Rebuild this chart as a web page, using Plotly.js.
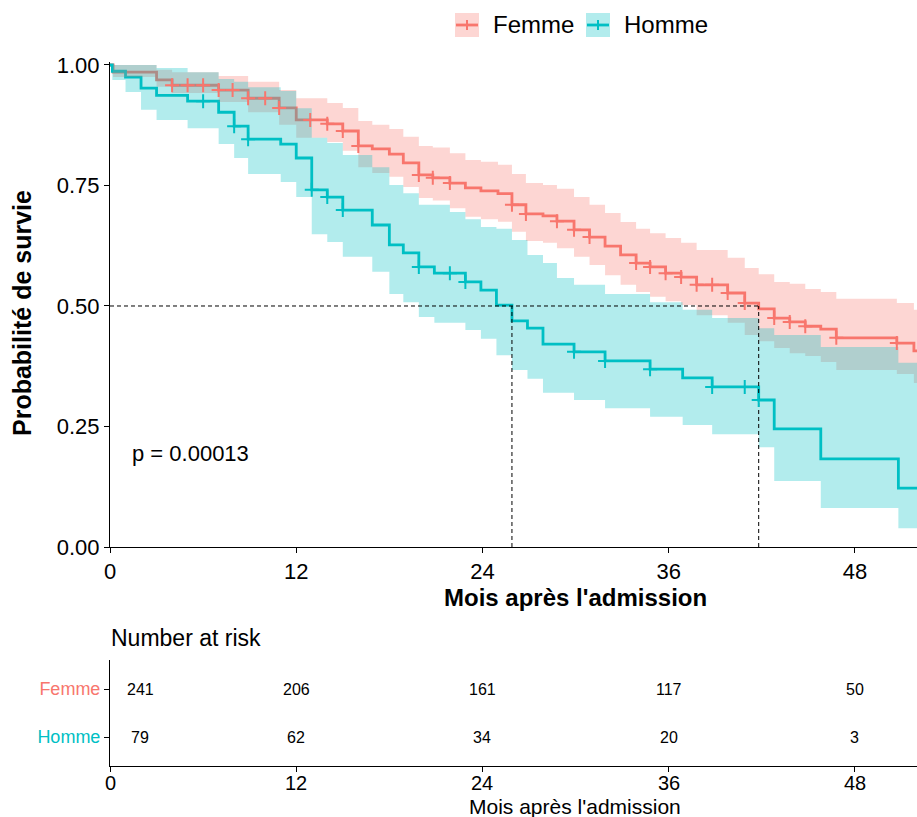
<!DOCTYPE html>
<html><head><meta charset="utf-8">
<script src="https://cdn.plot.ly/plotly-3.0.1.min.js"></script>
<style>html,body{margin:0;padding:0;background:#fff;}#chart{width:917px;height:817px;}</style>
</head><body><div id="chart"></div>
<script>
// ---------------- data ----------------
const groups = ["Femme", "Homme"];

const femmeTime  = [0, 0.2, 3.0, 4.0, 7.0, 8.9, 10.9, 12.0, 14.0, 15.0, 16.0, 16.9, 18.0, 18.9, 19.9, 20.8, 21.9, 22.9, 23.9, 25.0, 25.9, 26.8, 27.9, 28.8, 29.9, 30.9, 31.9, 32.9, 33.9, 34.8, 35.8, 36.8, 37.8, 39.8, 40.9, 41.8, 42.8, 43.8, 44.8, 45.8, 46.8, 50.7, 51.8, 60];
const femmeSurv  = [1, 0.985, 0.969, 0.958, 0.948, 0.931, 0.911, 0.886, 0.878, 0.863, 0.832, 0.826, 0.815, 0.797, 0.772, 0.766, 0.755, 0.745, 0.739, 0.733, 0.710, 0.691, 0.687, 0.676, 0.658, 0.643, 0.624, 0.606, 0.589, 0.581, 0.568, 0.560, 0.544, 0.527, 0.506, 0.494, 0.475, 0.467, 0.458, 0.452, 0.434, 0.423, 0.407, 0.407];
const femmeUpper = [1, 1, 0.99, 0.985, 0.977, 0.965, 0.948, 0.931, 0.921, 0.911, 0.884, 0.876, 0.867, 0.851, 0.832, 0.829, 0.817, 0.803, 0.799, 0.793, 0.774, 0.755, 0.751, 0.743, 0.726, 0.710, 0.693, 0.674, 0.660, 0.651, 0.641, 0.631, 0.616, 0.600, 0.579, 0.566, 0.550, 0.546, 0.535, 0.529, 0.515, 0.506, 0.492, 0.492];
const femmeLower = [1, 0.975, 0.955, 0.942, 0.923, 0.902, 0.876, 0.849, 0.840, 0.822, 0.788, 0.776, 0.768, 0.747, 0.724, 0.719, 0.703, 0.685, 0.680, 0.675, 0.654, 0.635, 0.631, 0.620, 0.602, 0.585, 0.564, 0.544, 0.529, 0.519, 0.510, 0.502, 0.481, 0.465, 0.440, 0.427, 0.413, 0.402, 0.396, 0.384, 0.367, 0.359, 0.340, 0.340];
const femmeCensor = [4.0, 5.0, 6.0, 7.0, 7.9, 8.9, 10.0, 10.9, 12.9, 14.0, 15.0, 16.0, 19.9, 20.8, 21.9, 25.9, 26.8, 28.8, 29.9, 30.9, 33.9, 34.8, 35.8, 36.8, 37.8, 38.8, 39.8, 40.9, 42.8, 43.8, 44.8, 46.8, 50.7];

const hommeTime  = [0, 0.15, 1.0, 2.0, 3.0, 5.0, 7.0, 8.0, 8.9, 11.0, 12.0, 13.0, 14.0, 15.0, 16.9, 18.0, 18.9, 19.9, 20.9, 21.9, 22.9, 23.9, 24.9, 25.9, 26.9, 27.9, 28.8, 29.9, 31.9, 34.8, 36.9, 38.8, 41.8, 42.8, 45.8, 50.8, 60];
const hommeSurv  = [1, 0.987, 0.975, 0.952, 0.937, 0.925, 0.902, 0.873, 0.846, 0.836, 0.807, 0.741, 0.726, 0.699, 0.668, 0.627, 0.610, 0.581, 0.568, 0.568, 0.550, 0.533, 0.502, 0.469, 0.454, 0.421, 0.421, 0.405, 0.386, 0.369, 0.351, 0.332, 0.305, 0.245, 0.183, 0.122, 0.122];
const hommeUpper = [1, 1, 1, 1, 0.994, 0.985, 0.971, 0.965, 0.954, 0.946, 0.910, 0.849, 0.838, 0.813, 0.788, 0.751, 0.734, 0.710, 0.710, 0.695, 0.680, 0.664, 0.660, 0.637, 0.606, 0.589, 0.558, 0.544, 0.525, 0.508, 0.492, 0.475, 0.454, 0.440, 0.415, 0.382, 0.382];
const hommeLower = [1, 0.969, 0.944, 0.907, 0.886, 0.869, 0.836, 0.807, 0.774, 0.757, 0.726, 0.649, 0.633, 0.602, 0.571, 0.525, 0.508, 0.477, 0.465, 0.465, 0.450, 0.432, 0.398, 0.367, 0.349, 0.320, 0.320, 0.305, 0.288, 0.270, 0.253, 0.234, 0.207, 0.137, 0.081, 0.039, 0.039];
const hommeCensor = [6.0, 8.0, 8.9, 13.0, 14.0, 15.0, 19.9, 21.9, 22.9, 29.9, 31.9, 34.8, 38.8, 40.9, 41.8];

const medianTimes = [41.8, 25.9];   // Femme, Homme
const medianLevel = 0.5;
const pValueText = "p = 0.00013";

const riskTimes = [0, 12, 24, 36, 48];
const riskFemme = [241, 206, 161, 117, 50];
const riskHomme = [79, 62, 34, 20, 3];

const xTicks = [0, 12, 24, 36, 48];
const yTicks = [0, 0.25, 0.5, 0.75, 1];
const yTickText = ["0.00", "0.25", "0.50", "0.75", "1.00"];

// ---------------- style ----------------
const FONT = "Liberation Sans, Arial, Helvetica, sans-serif";
const RED = "#F8766D", TEAL = "#00BFC4";
const RED_FILL = "rgba(248,118,109,0.3)", TEAL_FILL = "rgba(0,191,196,0.3)";
const W = 917, H = 817, ML = 110;
const px = X => (X - ML) / (W - ML);
const py = Y => 1 - Y / H;

function stepAt(times, vals, t) {
  let v = vals[0];
  for (let i = 0; i < times.length; i++) if (times[i] <= t + 1e-9) v = vals[i];
  return v;
}

const series = [
  {name: groups[0], t: femmeTime, s: femmeSurv, u: femmeUpper, l: femmeLower, c: femmeCensor, color: RED, fill: RED_FILL},
  {name: groups[1], t: hommeTime, s: hommeSurv, u: hommeUpper, l: hommeLower, c: hommeCensor, color: TEAL, fill: TEAL_FILL}
];

const traces = [];
series.forEach(g => traces.push({
  x: g.t, y: g.s, type: "scatter", mode: "lines", name: g.name,
  line: {color: g.color, width: 2.8, shape: "hv"}, hoverinfo: "skip", xaxis: "x", yaxis: "y"
}));
series.forEach(g => {
  traces.push({x: g.t, y: g.l, type: "scatter", mode: "lines", line: {width: 0, shape: "hv", color: g.fill},
    hoverinfo: "skip", xaxis: "x", yaxis: "y"});
  traces.push({x: g.t, y: g.u, type: "scatter", mode: "lines", fill: "tonexty", fillcolor: g.fill,
    line: {width: 0, shape: "hv", color: g.fill}, hoverinfo: "skip", xaxis: "x", yaxis: "y"});
});
const maxMedian = Math.max(...medianTimes);
traces.push({x: [0, maxMedian], y: [medianLevel, medianLevel], type: "scatter", mode: "lines",
  line: {color: "#000", width: 1, dash: "4px,3px"}, hoverinfo: "skip", xaxis: "x", yaxis: "y"});
medianTimes.forEach(m => traces.push({x: [m, m], y: [0, medianLevel], type: "scatter", mode: "lines",
  line: {color: "#000", width: 1, dash: "4px,3px"}, hoverinfo: "skip", xaxis: "x", yaxis: "y"}));
series.forEach(g => traces.push({
  x: g.c, y: g.c.map(t => stepAt(g.t, g.s, t)), type: "scatter", mode: "markers",
  marker: {symbol: "cross-thin", size: 10, color: g.color, line: {color: g.color, width: 2}},
  hoverinfo: "skip", xaxis: "x", yaxis: "y", cliponaxis: false
}));
traces.push({x: [null], y: [null], type: "scatter", mode: "markers", xaxis: "x2", yaxis: "y2", hoverinfo: "skip"});

const annotations = [];
const riskRows = [{vals: riskFemme, row: 2}, {vals: riskHomme, row: 1}];
riskRows.forEach(r => r.vals.forEach((v, i) => annotations.push({
  x: riskTimes[i], y: r.row, xref: "x2", yref: "y2", text: String(v), showarrow: false,
  xshift: riskTimes[i] === 0 ? 30 : 0, font: {size: 16, color: "#000", family: FONT}
})));
// table x tick labels (placed as text to match the reference spacing)
riskTimes.forEach(t => annotations.push({
  x: t, y: py(783), xref: "x2", yref: "paper", text: String(t), showarrow: false,
  xanchor: "center", yanchor: "middle", font: {size: 20, color: "#000", family: FONT}
}));
annotations.push({x: 1.3, y: 0.195, xref: "x", yref: "y", text: pValueText, showarrow: false,
  xanchor: "left", yanchor: "middle", font: {size: 22, color: "#000", family: FONT}});
annotations.push({x: px(22), y: py(313), xref: "paper", yref: "paper", text: "<b>Probabilité de survie</b>",
  textangle: -90, showarrow: false, xanchor: "center", yanchor: "middle", font: {size: 25, color: "#000", family: FONT}});
annotations.push({x: px(575), y: py(597), xref: "paper", yref: "paper", text: "<b>Mois après l'admission</b>",
  showarrow: false, xanchor: "center", yanchor: "middle", font: {size: 24, color: "#000", family: FONT}});
annotations.push({x: px(109), y: py(638), xref: "paper", yref: "paper", text: "Number at risk",
  showarrow: false, xanchor: "left", yanchor: "middle", font: {size: 23, color: "#000", family: FONT}});
annotations.push({x: px(575), y: py(806), xref: "paper", yref: "paper", text: "Mois après l'admission",
  showarrow: false, xanchor: "center", yanchor: "middle", font: {size: 21, color: "#000", family: FONT}});
const legendItems = [{name: groups[0], box: 455, text: 491, color: RED, fill: RED_FILL},
                     {name: groups[1], box: 586, text: 622, color: TEAL, fill: TEAL_FILL}];
const shapes = [];
legendItems.forEach(it => {
  annotations.push({x: px(it.text), y: py(25), xref: "paper", yref: "paper", text: it.name, showarrow: false,
    xanchor: "left", yanchor: "middle", font: {size: 24, color: "#000", family: FONT}});
  shapes.push({type: "rect", xref: "paper", yref: "paper", x0: px(it.box), x1: px(it.box + 24), y0: py(37), y1: py(13),
    fillcolor: it.fill, line: {width: 0}, layer: "above"});
  shapes.push({type: "line", xref: "paper", yref: "paper", x0: px(it.box + 1), x1: px(it.box + 23), y0: py(25), y1: py(25),
    line: {color: it.color, width: 2.8}, layer: "above"});
  shapes.push({type: "line", xref: "paper", yref: "paper", x0: px(it.box + 12), x1: px(it.box + 12), y0: py(30), y1: py(20),
    line: {color: it.color, width: 2}, layer: "above"});
});

const axisCommon = {showgrid: false, zeroline: false, showline: true, linecolor: "#000", linewidth: 1,
  ticks: "outside", ticklen: 5, tickwidth: 1, tickcolor: "#000", fixedrange: true};

const layout = {
  width: W, height: H, margin: {l: ML, r: 0, t: 0, b: 0, pad: 0},
  paper_bgcolor: "#fff", plot_bgcolor: "#fff", showlegend: false,
  font: {family: FONT, color: "#000"},
  xaxis: Object.assign({}, axisCommon, {domain: [0, 1], range: [0, 52], anchor: "y",
    tickmode: "array", tickvals: xTicks, tickfont: {size: 22, color: "#000"}}),
  yaxis: Object.assign({}, axisCommon, {domain: [py(547), py(62)], range: [0, 1.0062], anchor: "x",
    tickmode: "array", tickvals: yTicks, ticktext: yTickText, tickfont: {size: 22, color: "#000"}}),
  xaxis2: Object.assign({}, axisCommon, {domain: [0, 1], range: [0, 52], anchor: "y2",
    tickmode: "array", tickvals: xTicks, showticklabels: false}),
  yaxis2: Object.assign({}, axisCommon, {domain: [py(766), py(660)], range: [0.396, 2.604], anchor: "x2",
    tickmode: "array", tickvals: [1, 2],
    ticktext: ['<span style="color:' + TEAL + '">' + groups[1] + '</span>', '<span style="color:' + RED + '">' + groups[0] + '</span>'],
    tickfont: {size: 18}}),
  annotations: annotations,
  shapes: shapes
};

Plotly.newPlot("chart", traces, layout, {displayModeBar: false, staticPlot: true});
</script>
</body></html>
